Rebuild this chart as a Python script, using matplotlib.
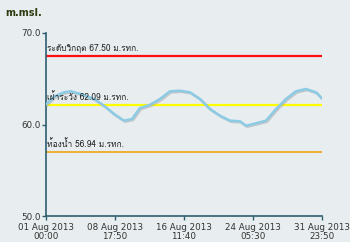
import matplotlib
matplotlib.use("Agg")
import matplotlib.pyplot as plt
import matplotlib.patheffects as pe
import pandas as pd

# water level readings (m.msl.), days after 01 Aug 2013 00:00
start = pd.Timestamp("2013-08-01 00:00")
day_offsets = [0.0, 0.90, 2.02, 2.77, 3.90, 5.39, 6.51, 7.64, 8.76, 9.66, 10.55,
               11.68, 12.80, 13.92, 15.05, 16.17, 17.29, 18.42, 19.54, 20.66, 21.78,
               22.46, 23.58, 24.70, 25.83, 26.95, 28.07, 29.19, 30.32, 30.993]
levels = [62.2, 63.04, 63.52, 63.63, 63.33, 62.79, 62.05, 61.15, 60.42, 60.60, 61.80,
          62.16, 62.79, 63.63, 63.69, 63.52, 62.79, 61.69, 60.96, 60.42, 60.35,
          59.87, 60.13, 60.42, 61.69, 62.79, 63.63, 63.88, 63.52, 62.84]

ref_names = ["ระดับวิกฤต", "เฝ้าระวัง", "ท้องน้ำ"]
ref_values = [67.50, 62.09, 56.94]
ref_colors = ["#ff1010", "#ffff00", "#f0a000"]
ref_widths = [1.6, 1.6, 1.1]

tick_times = pd.to_datetime(["2013-08-01 00:00", "2013-08-08 17:50", "2013-08-16 11:40",
                             "2013-08-24 05:30", "2013-08-31 23:50"])
y_ticks = [50.0, 60.0, 70.0]

times = [start + pd.Timedelta(days=d) for d in day_offsets]

bg = "#e8edef"
axis_col = "#2e5e6e"

fig = plt.figure(figsize=(3.5, 2.42), dpi=100, facecolor=bg)
ax = fig.add_axes([46 / 350, 26 / 242, 276 / 350, 183 / 242], facecolor=bg)

for name, val, col, w in zip(ref_names, ref_values, ref_colors, ref_widths):
    ax.plot([tick_times[0], tick_times[-1]], [val, val], color=col, lw=w,
            solid_capstyle="butt", zorder=2)
    ax.text(tick_times[0] + pd.Timedelta(hours=4), val + 0.35, f"{name} {val:.2f} ม.รทก.",
            fontsize=6, color="#222222", family=["Loma", "DejaVu Sans"], va="bottom", zorder=4)

ax.plot(times, levels, color="#8ccbe6", lw=1.8, zorder=3,
        solid_joinstyle="round", solid_capstyle="round",
        path_effects=[pe.SimpleLineShadow(offset=(0.8, -0.8), shadow_color="#9a9a9a", alpha=0.45),
                      pe.Normal()])

ax.set_xlim(tick_times[0], tick_times[-1])
ax.set_ylim(50, 70)
ax.set_xticks(tick_times)
ax.set_xticklabels([t.strftime("%d %b %Y\n%H:%M") for t in tick_times])
ax.set_yticks(y_ticks)
ax.set_yticklabels([f"{v:.1f}" for v in y_ticks])
ax.tick_params(axis="both", colors=axis_col, length=3, width=1, labelsize=6.3,
               labelcolor="#333333", pad=1)
ax.tick_params(axis="x", pad=2)
for t in ax.get_xticklabels():
    t.set_linespacing(1.0)

for s in ["top", "right"]:
    ax.spines[s].set_visible(False)
for s in ["left", "bottom"]:
    ax.spines[s].set_color(axis_col)
    ax.spines[s].set_linewidth(1.2)

fig.text(5 / 350, 1 - 16 / 242, "m.msl.", fontsize=7, fontweight="bold", color="#2f3a12")

fig.savefig("out.png", facecolor=bg)
